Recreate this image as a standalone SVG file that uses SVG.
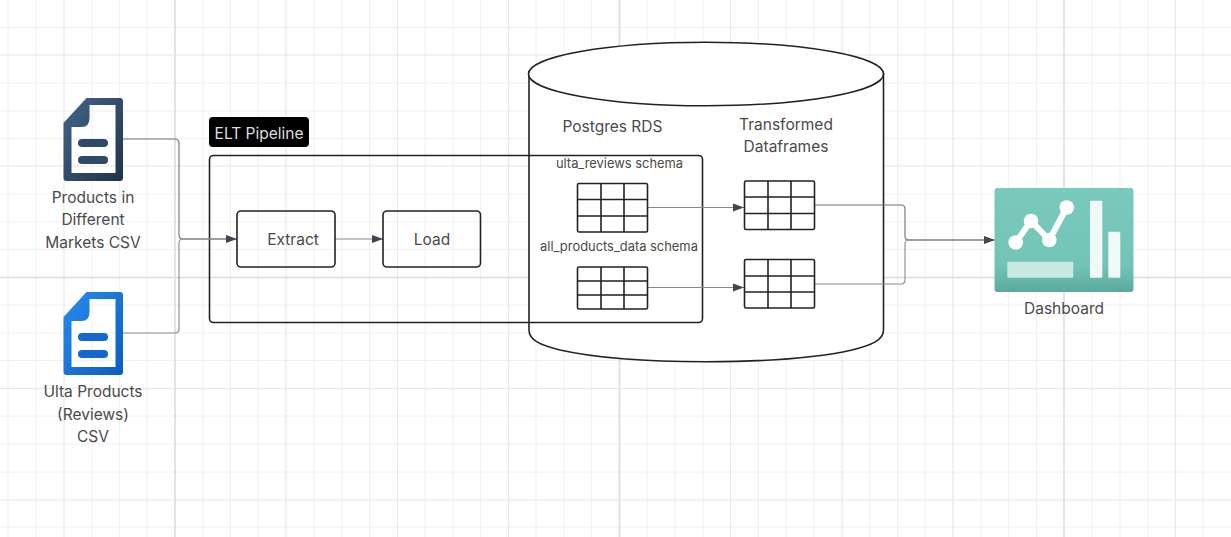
<svg xmlns="http://www.w3.org/2000/svg" width="1231" height="537" viewBox="0 0 1231 537">
<defs>
<linearGradient id="g1" x1="0" y1="0" x2="1" y2="1"><stop offset="0" stop-color="#44668a"/><stop offset="1" stop-color="#20324a"/></linearGradient>
<linearGradient id="g2" x1="0" y1="0" x2="1" y2="1"><stop offset="0" stop-color="#2a8cf0"/><stop offset="1" stop-color="#0a5cc0"/></linearGradient>
<linearGradient id="g3" x1="0" y1="0" x2="0" y2="1"><stop offset="0" stop-color="#79cabd"/><stop offset="0.75" stop-color="#72c4b7"/><stop offset="1" stop-color="#5ba99d"/></linearGradient>
<marker id="arr" markerWidth="12" markerHeight="9" refX="11.500" refY="4.500" orient="auto" markerUnits="userSpaceOnUse"><path d="M0 0.300L11.500 4.500L0 8.700Z" fill="#3f4650"/></marker>
<path id="doc" fill-rule="evenodd" d="M23 0H56.500Q59.500 0 59.500 3V80Q59.500 83 56.500 83H3Q0 83 0 80V25Z M26 7V20Q26 29 18 29H8V75H52V7Z"/>
</defs>
<style>
.g{stroke:#f0f0f0;stroke-width:1;fill:none}
.m{stroke:#e8e8e8;stroke-width:1.200;fill:none}
.s{stroke:#dcdcdc;stroke-width:1.600;fill:none}
text{font-family:Inter,"Liberation Sans",sans-serif;font-size:15.500px;fill:#4a4a4c;text-anchor:middle}
.small{font-size:12.900px}
.box{fill:none;stroke:#222;stroke-width:1.600}
.c{fill:none;stroke:#6c7078;stroke-width:1.100}
.c2{fill:none;stroke:#868a92;stroke-width:1.100}
.t{fill:none;stroke:#222;stroke-width:1.600}
</style>
<rect width="1231" height="537" fill="#fff"/>
<g id="grid">
<path class="g" d="M8 0V537M36 0V537M92 0V537M119.500 0V537M147 0V537M203 0V537M230.500 0V537M258 0V537M314 0V537M342 0V537M369.500 0V537M425 0V537M453 0V537M480.500 0V537M536 0V537M564 0V537M591.500 0V537M647 0V537M675 0V537M703 0V537M758.500 0V537M786 0V537M814 0V537M869.500 0V537M897.500 0V537M925 0V537M981 0V537M1008.500 0V537M1036.500 0V537M1092 0V537M1120 0V537M1148 0V537M1203 0V537"/>
<path class="g" d="M0 27.500H1231M0 83H1231M0 111H1231M0 138.500H1231M0 194H1231M0 222H1231M0 249.500H1231M0 305H1231M0 333H1231M0 360.500H1231M0 416H1231M0 444H1231M0 472H1231M0 527H1231"/>
<path class="m" d="M64 0V537M286 0V537M397.500 0V537M508.500 0V537M730.500 0V537M842 0V537M953 0V537M1175.500 0V537M0 55H1231M0 166H1231M0 388.500H1231M0 500H1231"/>
<path class="s" d="M175 0V537M619.500 0V537M1064 0V537M0 277.500H1231"/>
</g>
<g id="cylinder"><path d="M529 74V330C529 340 540 345 560 350C600 359 660 361.700 706 361.700S812 359 852 350C872 345 883.500 340 883.500 330V74Z" fill="#fff" stroke="#222" stroke-width="1.600"/><ellipse cx="706" cy="74" rx="177.500" ry="31.700" fill="#fff" stroke="#222" stroke-width="1.600"/>
<text x="612.500" y="131.500">Postgres RDS</text><text x="786" y="129.500">Transformed</text><text x="786" y="151.500">Dataframes</text></g>
<g id="pipeline"><rect x="209.500" y="155.500" width="493" height="167" rx="4" class="box"/></g>
<g id="pipeline-label"><rect x="209" y="117" width="100" height="30" rx="4" fill="#000"/><text x="259" y="138.500" style="fill:#ddd">ELT Pipeline</text></g>
<g id="connectors">
<path class="c" d="M123 139H175Q179 139 179 143V235Q179 239 183 239H237" marker-end="url(#arr)"/>
<path class="c2" d="M123 333H175Q179 333 179 329V243Q179 239 183 239H226"/>
<path class="c2" d="M335 239H383" marker-end="url(#arr)"/>
<path class="c2" d="M648 207.500H744" marker-end="url(#arr)"/>
<path class="c2" d="M648 287.500H744" marker-end="url(#arr)"/>
<path class="c" d="M815 205H901Q905 205 905 209V236Q905 240 909 240H995" marker-end="url(#arr)"/>
<path class="c2" d="M815 284H901Q905 284 905 280V244Q905 240 909 240H984"/>
</g>
<g id="csv-products"><use href="#doc" x="63.500" y="98" fill="url(#g1)"/><rect x="78" y="139" width="30" height="8" rx="4" fill="#2f4a68"/><rect x="78" y="156" width="30" height="8" rx="4" fill="#2f4a68"/>
<text x="93" y="202.500">Products in</text><text x="93" y="224.500">Different</text><text x="93" y="247.500">Markets CSV</text></g>
<g id="csv-ulta"><use href="#doc" x="63.500" y="292" fill="url(#g2)"/><rect x="78" y="333" width="30" height="8" rx="4" fill="#1468d0"/><rect x="78" y="350" width="30" height="8" rx="4" fill="#1468d0"/>
<text x="93" y="396.500">Ulta Products</text><text x="93" y="419.500">(Reviews)</text><text x="93" y="441.500">CSV</text></g>
<g id="extract"><rect x="237" y="211" width="98" height="56" rx="4" class="box"/><text x="293" y="244.500">Extract</text></g>
<g id="load"><rect x="383" y="211" width="97.500" height="56" rx="4" class="box"/><text x="432" y="244.500">Load</text></g>
<text x="619.500" y="167.500" class="small">ulta_reviews schema</text>
<text x="619" y="250.500" class="small">all_products_data schema</text>
<g id="t1"><rect class="t" x="577.500" y="183.500" width="70" height="48.500" rx="1.500"/><path class="t" d="M601 183.500V232M624 183.500V232M577.500 199.500H647.500M577.500 216H647.500"/></g>
<g id="t2"><rect class="t" x="577.500" y="267" width="70" height="42" rx="1.500"/><path class="t" d="M601 267V309M624 267V309M577.500 281H647.500M577.500 295H647.500"/></g>
<g id="t3"><rect class="t" x="744.500" y="181" width="70" height="48.500" rx="1.500"/><path class="t" d="M768 181V229.500M791 181V229.500M744.500 197H814.500M744.500 213.500H814.500"/></g>
<g id="t4"><rect class="t" x="744.500" y="259.500" width="70" height="48.500" rx="1.500"/><path class="t" d="M768 259.500V308M791 259.500V308M744.500 276H814.500M744.500 292H814.500"/></g>
<g id="dashboard"><rect x="994.500" y="188" width="139" height="104" rx="3" fill="url(#g3)"/>
<path d="M1015.700 242.500L1031 221L1049.300 240L1066.700 207.500" fill="none" stroke="#fff" stroke-width="6"/>
<circle cx="1015.700" cy="242.500" r="7.300" fill="#fff"/><circle cx="1031" cy="221" r="7.300" fill="#fff"/><circle cx="1049.300" cy="240" r="7.300" fill="#fff"/><circle cx="1066.700" cy="207.500" r="7.300" fill="#fff"/>
<rect x="1007.300" y="261.700" width="66" height="16" rx="1" fill="#c9e8e2"/><rect x="1090" y="200.700" width="12.300" height="77" rx="1" fill="#f0f9f7"/><rect x="1108.300" y="231.700" width="12" height="46" rx="1" fill="#f0f9f7"/>
<text x="1064" y="313.500">Dashboard</text></g>
</svg>
